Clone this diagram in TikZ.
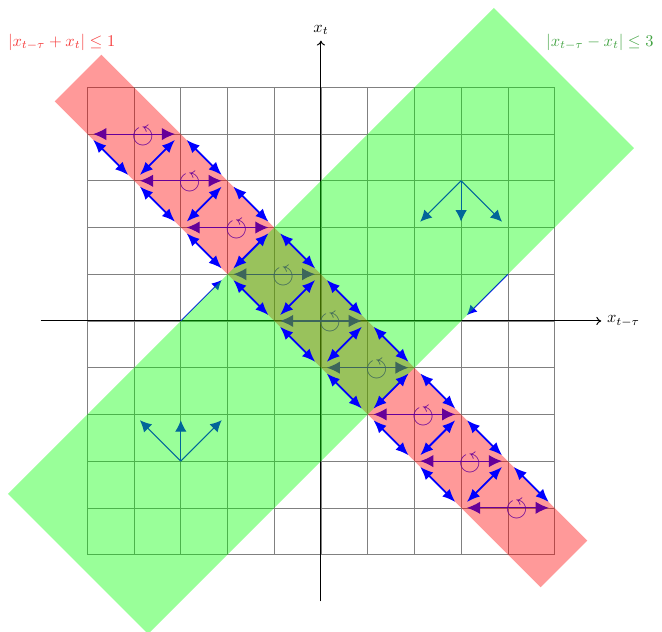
\documentclass[tikz,border=0pt]{standalone}
\usepackage{amssymb}
\usetikzlibrary{arrows.meta}
\definecolor{redlab}{RGB}{245,60,60}
\definecolor{greenlab}{RGB}{70,165,70}
\tikzset{
  lat/.style={inner sep=3.33pt, minimum size=0pt},
  gridline/.style={gray, line width=0.4pt},
  axis/.style={black, line width=0.6pt, -{To[length=3pt,width=5pt]}},
  harrow/.style={blue, line width=0.7pt, {Latex[length=8pt,width=7.5pt]}-{Latex[length=8pt,width=7.5pt]}},
  darrow/.style={blue, line width=1.1pt, {Latex[length=8pt,width=6.5pt]}-{Latex[length=8pt,width=6.5pt]}},
  varrow/.style={blue, line width=0.7pt, -{Latex[length=7pt,width=7pt]}},
  earrow/.style={blue, line width=0.6pt, -{Latex[length=6pt,width=6pt]}},
  rot/.style={blue, inner sep=0pt, font=\LARGE},
  redband/.style={fill=red, fill opacity=0.4},
  greenband/.style={fill=green, fill opacity=0.4},
}
\begin{document}
\begin{tikzpicture}
\useasboundingbox (-6.87,-6.64) rectangle (7.30,6.87);
% grid
\draw[gridline] (-5,-5) grid (5,5);
% axes
\coordinate (xa) at (-6,0);
\coordinate (xb) at (6,0);
\coordinate (ya) at (0,-6);
\coordinate (yb) at (0,6);
\draw[axis] (xa) -- (xb);
\draw[axis] (ya) -- (yb);
\node[right] (xlab) at (xb) {$x_{t-\tau}$};
\node[above] (ylab) at (yb) {$x_t$};
% lattice nodes
\foreach \x in {-5,...,5} {
  \foreach \y in {-5,...,5} {
    \pgfmathtruncatemacro\i{\x+20}
    \pgfmathtruncatemacro\j{\y+20}
    \node[lat] (p\i\j) at (\x,\y) {};
  }
}
% horizontal arrows with rotation symbols
\foreach \y in {-4,...,4} {
  \pgfmathtruncatemacro\a{19-\y}
  \pgfmathtruncatemacro\b{21-\y}
  \pgfmathtruncatemacro\j{\y+20}
  \draw[harrow] (p\a\j) -- (p\b\j);
  \node[rot] (c\j) at ({-\y+0.19},{\y-0.04}) {$\circlearrowleft$};
}
% V arrows
\coordinate (v1) at (3,3);
\draw[varrow] (v1) -- (p2222);
\draw[varrow] (v1) -- (p2322);
\draw[varrow] (v1) -- (p2422);
\coordinate (v2) at (-3,-3);
\draw[varrow] (v2) -- (p1618);
\draw[varrow] (v2) -- (p1718);
\draw[varrow] (v2) -- (p1818);
% edge arrows
\coordinate (e1) at (-3,0);
\coordinate (e2) at (4,1);
\draw[earrow] (e1) -- (p1821);
\draw[earrow] (e2) -- (p2320);
% bands
\fill[redband] (-5.7,4.7) -- (-4.7,5.7) -- (5.7,-4.7) -- (4.7,-5.7) -- cycle;
\fill[greenband] (-6.7,-3.7) -- (3.7,6.7) -- (6.7,3.7) -- (-3.7,-6.7) -- cycle;
% diagonal arrows
\foreach \y in {-3,...,4} {
  \pgfmathtruncatemacro\ai{19-\y}
  \pgfmathtruncatemacro\aj{\y+20}
  \pgfmathtruncatemacro\ci{20-\y}
  \pgfmathtruncatemacro\cj{\y+19}
  \pgfmathtruncatemacro\bi{21-\y}
  \pgfmathtruncatemacro\di{22-\y}
  \draw[darrow] (p\ai\aj) -- (p\ci\cj);
  \draw[darrow] (p\ci\cj) -- (p\bi\aj);
  \draw[darrow] (p\bi\aj) -- (p\di\cj);
}
% labels
\node[text=redlab] (lred) at (-5.55,5.97) {$|x_{t-\tau}+x_t|\le 1$};
\node[text=greenlab] (lgreen) at (5.97,5.97) {$|x_{t-\tau}-x_t|\le 3$};
\end{tikzpicture}
\end{document}
